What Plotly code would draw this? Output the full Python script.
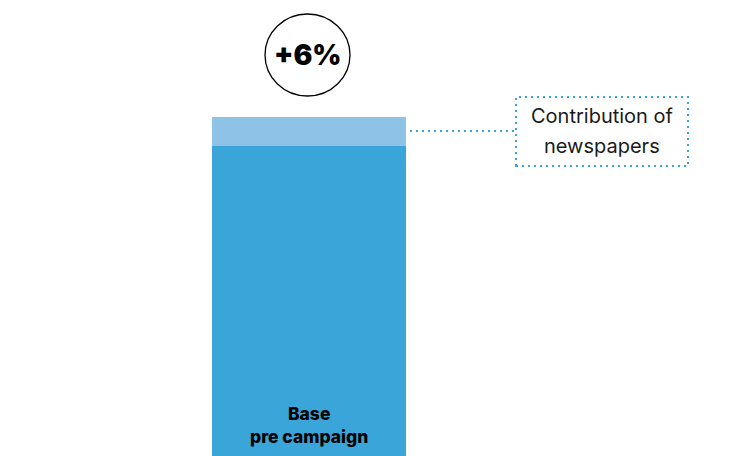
import plotly.graph_objects as go

# Single stacked column: pre-campaign base plus the newspaper uplift
categories = ["Campaign"]
base_values = [100]
newspaper_lift = [6]
base_label = "Base<br>pre campaign"
lift_caption = ["Contribution of", "newspapers"]

BASE_BLUE = "rgb(58,165,216)"
LIFT_BLUE = "rgb(142,194,230)"
FONT = "Inter"

W, H = 729, 456

lift_pct = newspaper_lift[0] / base_values[0] * 100
lift_text = f"+{lift_pct:.0f}%"

fig = go.Figure()
fig.add_trace(go.Bar(x=categories, y=base_values, marker=dict(color=BASE_BLUE, line=dict(width=0)),
                     width=1, hoverinfo="skip"))
fig.add_trace(go.Bar(x=categories, y=newspaper_lift, marker=dict(color=LIFT_BLUE, line=dict(width=0)),
                     width=1, hoverinfo="skip"))


def px(xp, yp):
    return xp / W, 1 - yp / H


# circle badge with the uplift percentage
cx0, cy0 = px(265, 96)
cx1, cy1 = px(350, 14)
fig.add_shape(type="circle", xref="paper", yref="paper", x0=cx0, y0=cy0, x1=cx1, y1=cy1,
              line=dict(color="black", width=1.3), fillcolor="white")
bx, by = px(308, 55)
fig.add_annotation(xref="paper", yref="paper", x=bx, y=by, text=lift_text,
                   showarrow=False, font=dict(family=FONT, size=28, color="black", weight=900),
                   xanchor="center", yanchor="middle")

# dotted leader from the uplift segment to the caption box
lx0, ly = px(410, 131)
lx1, _ = px(515, 131)
fig.add_shape(type="line", xref="paper", yref="paper", x0=lx0, y0=ly, x1=lx1, y1=ly,
              line=dict(color=BASE_BLUE, width=2, dash="2px,4px"))

rx0, ry0 = px(516, 166)
rx1, ry1 = px(688, 97)
fig.add_shape(type="rect", xref="paper", yref="paper", x0=rx0, y0=ry0, x1=rx1, y1=ry1,
              line=dict(color=BASE_BLUE, width=2, dash="2px,4px"), fillcolor="white")
for line_text, yline in zip(lift_caption, (116, 146)):
    tx, ty = px(602, yline)
    fig.add_annotation(xref="paper", yref="paper", x=tx, y=ty, text=line_text, showarrow=False,
                       font=dict(family=FONT, size=20, color="#1a1a1a", weight=400),
                       xanchor="center", yanchor="middle")

# label at the foot of the base segment
_, ly2 = px(0, 425)
fig.add_annotation(xref="x", yref="paper", x=categories[0], y=ly2, text=base_label,
                   showarrow=False, font=dict(family=FONT, size=17.5, color="black", weight=800),
                   xanchor="center", yanchor="middle")

bar_w_px = 194
span = W / bar_w_px
x_lo = -309 / bar_w_px

fig.update_layout(
    barmode="stack",
    width=W, height=H,
    margin=dict(l=0, r=0, t=0, b=0),
    paper_bgcolor="white", plot_bgcolor="white",
    showlegend=False,
    xaxis=dict(visible=False, range=[x_lo, x_lo + span]),
    yaxis=dict(visible=False, range=[35.1, 130.5]),
)

fig.write_html("out.html")
